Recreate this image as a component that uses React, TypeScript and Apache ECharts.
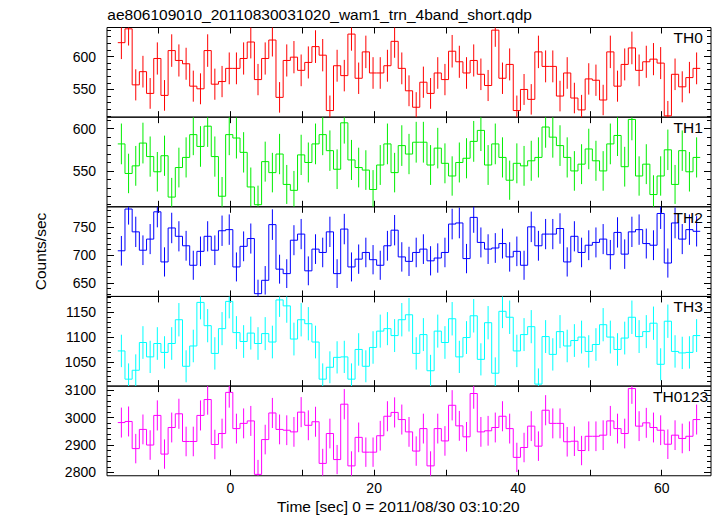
import React, { useEffect, useRef } from "react";
import * as echarts from "echarts";

const TITLE = "ae806109010_20110830031020_wam1_trn_4band_short.qdp";
const X_NAME = "Time [sec] 0 = 2011/08/30 03:10:20";
const Y_NAME = "Counts/sec";
const T_FIRST = -15.15; // centre of the first 1-s bin
const BIN = 1;

const TH0 = [621, 642, 557, 577, 544, 597, 541, 609, 594, 589, 555, 551, 609, 558, 562, 582, 582, 597, 622, 565, 597, 625, 538, 594, 599, 579, 591, 615, 602, 518, 586, 571, 634, 567, 607, 575, 575, 586, 623, 582, 548, 523, 561, 544, 575, 565, 608, 592, 575, 594, 573, 556, 640, 567, 588, 518, 550, 535, 607, 585, 585, 540, 575, 537, 519, 566, 564, 534, 607, 555, 588, 613, 579, 592, 596, 590, 510, 573, 554, 568, 582];
const TH1 = [582, 547, 556, 583, 567, 549, 568, 519, 554, 566, 593, 579, 603, 567, 520, 593, 589, 572, 531, 510, 561, 548, 570, 534, 527, 569, 560, 582, 593, 574, 552, 607, 563, 554, 551, 528, 557, 582, 548, 580, 570, 584, 584, 557, 577, 559, 544, 560, 565, 585, 598, 557, 582, 566, 539, 559, 556, 562, 566, 602, 590, 580, 566, 550, 558, 576, 562, 550, 582, 592, 555, 611, 544, 558, 522, 544, 575, 534, 574, 549, 566];
const TH2 = [708, 783, 742, 709, 729, 778, 688, 749, 734, 717, 682, 707, 734, 709, 744, 746, 679, 716, 730, 631, 655, 755, 675, 667, 727, 738, 672, 711, 705, 742, 667, 747, 679, 693, 705, 692, 682, 717, 745, 697, 689, 705, 711, 690, 695, 705, 756, 758, 694, 768, 723, 711, 713, 721, 697, 707, 682, 751, 717, 738, 738, 748, 688, 734, 705, 718, 723, 729, 701, 741, 702, 742, 746, 721, 718, 775, 686, 758, 729, 746, 743];
const TH3 = [1072, 1015, 1033, 1089, 1060, 1087, 1069, 1087, 1135, 1041, 1082, 1170, 1123, 1067, 1117, 1172, 1109, 1091, 1108, 1087, 1107, 1090, 1175, 1163, 1096, 1135, 1127, 1090, 1015, 1039, 1059, 1060, 1015, 1075, 1041, 1079, 1112, 1117, 1103, 1135, 1145, 1067, 1105, 1032, 1112, 1089, 1137, 1060, 1099, 1143, 1055, 1129, 1027, 1152, 1140, 1072, 1105, 1121, 1005, 1101, 1065, 1111, 1082, 1093, 1100, 1071, 1085, 1125, 1100, 1075, 1098, 1140, 1101, 1111, 1128, 1045, 1132, 1071, 1068, 1069, 1103];
const TH0123 = [2982, 2986, 2887, 2957, 2900, 3008, 2867, 2964, 3014, 2913, 2913, 3008, 3066, 2902, 2942, 3092, 2960, 2979, 2988, 2793, 2920, 3017, 2957, 2954, 2948, 3020, 2972, 2985, 2833, 2942, 2847, 3049, 2824, 2928, 2874, 2874, 2934, 3005, 3019, 2993, 2948, 2878, 2960, 2824, 2960, 2915, 3045, 2970, 2930, 3088, 2948, 2952, 2964, 3005, 2960, 2855, 2891, 2969, 2896, 3027, 2979, 2979, 2912, 2914, 2880, 2932, 2932, 2936, 2988, 2960, 2942, 3106, 2969, 2981, 2964, 2954, 2903, 2936, 2924, 2932, 2993];

const X_TICKS = [-10, 0, 10, 20, 30, 40, 50, 60];
const X_LABELS = [0, 20, 40, 60];

const TH0_TICKS = [550, 600];
const TH1_TICKS = [550, 600];
const TH2_TICKS = [650, 700, 750];
const TH3_TICKS = [1050, 1100, 1150];
const TH0123_TICKS = [2800, 2900, 3000, 3100];

const PANELS = [
  { name: "TH0", values: TH0, ticks: TH0_TICKS, min: 508, max: 644, minor: 10, color: "#ff0000", lx: 673.5 },
  { name: "TH1", values: TH1, ticks: TH1_TICKS, min: 507.5, max: 613.7, minor: 10, color: "#00ee00", lx: 673.5 },
  { name: "TH2", values: TH2, ticks: TH2_TICKS, min: 626, max: 787, minor: 10, color: "#0000ff", lx: 673.5 },
  { name: "TH3", values: TH3, ticks: TH3_TICKS, min: 1001, max: 1182, minor: 10, color: "#00ffff", lx: 673.5 },
  { name: "TH0123", values: TH0123, ticks: TH0123_TICKS, min: 2788, max: 3115, minor: 20, color: "#ff00ff", lx: 653 },
];

const X_MIN = -17.15;
const X_MAX = 66.85;
const FONT = "'Liberation Sans', Arial, Helvetica, sans-serif";
const GRID_LEFT = 107;
const GRID_WIDTH = 604;
const GRID_TOP = 27.5;
const GRID_H = 89.65;

function minorTicks(min: number, max: number, step: number) {
  const out: number[] = [];
  for (let v = Math.ceil(min / step) * step; v <= max; v += step) out.push(v);
  return out;
}

export default function App() {
  const ref = useRef<HTMLDivElement>(null);
  useEffect(() => {
    if (!ref.current) return;
    const chart = echarts.init(ref.current, undefined, { renderer: "svg" });
    const grid: any[] = [];
    const xAxis: any[] = [];
    const yAxis: any[] = [];
    const series: any[] = [];
    const texts: any[] = [];
    const n = PANELS.length;
    PANELS.forEach((p, i) => {
      const top = GRID_TOP + GRID_H * i;
      grid.push({
        left: GRID_LEFT,
        width: GRID_WIDTH,
        top,
        height: GRID_H,
        show: true,
        borderColor: "#000",
        borderWidth: 1,
        backgroundColor: "transparent",
      });
      ["bottom", "top"].forEach((pos) => {
        xAxis.push({
          type: "value",
          gridIndex: i,
          position: pos,
          min: X_MIN,
          max: X_MAX,
          axisLine: { show: false, onZero: false },
          splitLine: { show: false },
          axisTick: {
            show: true,
            inside: true,
            length: 6,
            customValues: X_TICKS,
            lineStyle: { color: "#000", width: 1 },
          },
          axisLabel: {
            show: pos === "bottom" && i === n - 1,
            customValues: X_LABELS,
            formatter: (v: number) => String(v),
            margin: 5,
            fontSize: 14,
            fontFamily: FONT,
            color: "#000",
          },
        });
      });
      const minor = minorTicks(p.min, p.max, p.minor);
      ["left", "right"].forEach((pos) => {
        [true, false].forEach((major) => {
          yAxis.push({
            type: "value",
            gridIndex: i,
            position: pos,
            min: p.min,
            max: p.max,
            axisLine: { show: false, onZero: false },
            splitLine: { show: false },
            axisTick: {
              show: true,
              inside: true,
              length: major ? 7 : 4,
              customValues: major ? p.ticks : minor,
              lineStyle: { color: "#000", width: 1 },
            },
            axisLabel: {
              show: major && pos === "left",
              customValues: p.ticks,
              formatter: (v: number) => String(v),
              margin: 11,
              fontSize: 14,
              fontFamily: FONT,
              color: "#000",
            },
          });
        });
      });
      const data = p.values.map((v, k) => [
        T_FIRST + k * BIN,
        v,
        Math.sqrt(v), // Poisson error of 1-s bin counts
        k < p.values.length - 1 ? p.values[k + 1] : v,
      ]);
      const color = p.color;
      series.push({
        type: "custom",
        xAxisIndex: i * 2,
        yAxisIndex: i * 4,
        clip: true,
        silent: true,
        data,
        encode: { x: 0, y: 1 },
        renderItem: (params: any, api: any) => {
          const x = api.value(0);
          const y = api.value(1);
          const e = api.value(2);
          const yn = api.value(3);
          const pL = api.coord([x - BIN / 2, y]);
          const pR = api.coord([x + BIN / 2, y]);
          const pN = api.coord([x + BIN / 2, yn]);
          const pT = api.coord([x, y + e]);
          const pB = api.coord([x, y - e]);
          const style = { stroke: color, lineWidth: 1, fill: null };
          return {
            type: "group",
            children: [
              { type: "line", shape: { x1: pL[0], y1: pL[1], x2: pR[0], y2: pR[1] }, style },
              { type: "line", shape: { x1: pR[0], y1: pR[1], x2: pN[0], y2: pN[1] }, style },
              { type: "line", shape: { x1: pT[0], y1: pT[1], x2: pB[0], y2: pB[1] }, style },
            ],
          };
        },
      });
      texts.push({
        type: "text",
        x: p.lx,
        y: top + 10.3,
        z: 10,
        style: { text: p.name, font: `15.5px ${FONT}`, fill: "#000", verticalAlign: "middle", align: "left" },
      });
    });
    texts.push({
      type: "text",
      x: 107.3,
      y: 14.7,
      z: 10,
      style: { text: TITLE, font: `15.5px ${FONT}`, fill: "#000", verticalAlign: "middle", align: "left" },
    });
    texts.push({
      type: "text",
      x: 398.4,
      y: 506.5,
      z: 10,
      style: { text: X_NAME, font: `15.5px ${FONT}`, fill: "#000", verticalAlign: "middle", align: "center" },
    });
    texts.push({
      type: "text",
      x: 40,
      y: 251.5,
      rotation: Math.PI / 2,
      z: 10,
      style: { text: Y_NAME, font: `15.5px ${FONT}`, fill: "#000", verticalAlign: "middle", align: "center" },
    });
    chart.setOption({
      animation: false,
      backgroundColor: "#fff",
      grid,
      xAxis,
      yAxis,
      series,
      graphic: texts,
    });
    return () => chart.dispose();
  }, []);
  return (
    <div
      ref={ref}
      style={{ position: "absolute", left: 0, top: 0, width: 717, height: 516 }}
    />
  );
}
